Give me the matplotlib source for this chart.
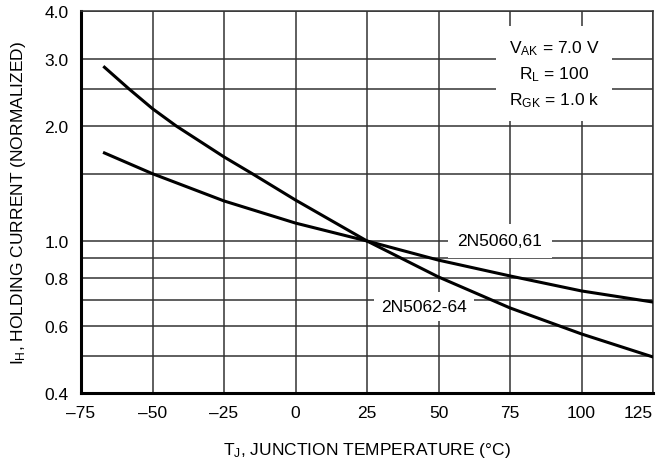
import matplotlib
matplotlib.use('Agg')
import matplotlib.pyplot as plt
from matplotlib.ticker import FixedLocator, NullFormatter

plt.rcParams['font.family'] = ['Liberation Sans', 'DejaVu Sans']
plt.rcParams['mathtext.default'] = 'regular'

# data
temp_5062 = [-66.8, -58.2, -50, -41.7, -25, -15.1, 0, 25, 50, 75, 100, 125]
ih_5062 = [2.85, 2.5, 2.22, 2.0, 1.66, 1.5, 1.28, 1.0, 0.805, 0.668, 0.571, 0.497]
temp_5060 = [-66.8, -50, -25, 0, 25, 50, 75, 100, 125]
ih_5060 = [1.70, 1.5, 1.273, 1.114, 1.0, 0.891, 0.81, 0.74, 0.692]

x_ticks = [-75, -50, -25, 0, 25, 50, 75, 100, 125]
x_labels = ['\u201375', '\u201350', '\u201325', '0', '25', '50', '75', '100', '125']
y_major = [0.4, 0.6, 0.8, 1.0, 2.0, 3.0, 4.0]
y_labels = ['0.4', '0.6', '0.8', '1.0', '2.0', '3.0', '4.0']
y_minor = [0.5, 0.7, 0.9, 1.5, 2.5]

fs = 12.5

fig = plt.figure(figsize=(6.59, 4.64), dpi=100)
ax = fig.add_axes([81/659, 1-394/464, (653-81)/659, (394-12)/464])

ax.set_yscale('log')
ax.set_xlim(-75, 125)
ax.set_ylim(0.4, 4.0)

ax.yaxis.set_major_locator(FixedLocator(y_major))
ax.yaxis.set_minor_locator(FixedLocator(y_minor))
ax.yaxis.set_minor_formatter(NullFormatter())
ax.set_yticklabels(y_labels)
ax.set_xticks(x_ticks)
ax.set_xticklabels(x_labels)
ax.get_xticklabels()[-1].set_ha('right')
ax.tick_params(which='both', length=0, labelsize=fs, pad=9)

ax.grid(True, which='both', color='#333333', linewidth=1.1, zorder=1)
ax.set_axisbelow(True)

for s in ['left', 'bottom']:
    ax.spines[s].set_linewidth(2.2)
for s in ['top', 'right']:
    ax.spines[s].set_linewidth(1.1)
    ax.spines[s].set_color('#333333')

ax.plot(temp_5062, ih_5062, color='black', linewidth=2.2, zorder=3)
ax.plot(temp_5060, ih_5060, color='black', linewidth=2.2, zorder=3)

ax.text(71.5, 1.0, '2N5060,61', fontsize=fs, ha='center', va='center',
        bbox=dict(facecolor='white', edgecolor='none', pad=7), zorder=4)
ax.text(45, 0.672, '2N5062-64', fontsize=fs, ha='center', va='center',
        bbox=dict(facecolor='white', edgecolor='none', pad=5), zorder=2)
ax.text(90.4, 2.74, '$V_{AK}$ = 7.0 V\n$R_{L}$ = 100\n$R_{GK}$ = 1.0 k',
        fontsize=fs, ha='center', va='center', linespacing=1.5,
        bbox=dict(facecolor='white', edgecolor='none', pad=9), zorder=4)

ax.set_xlabel('$T_{J}$, JUNCTION TEMPERATURE (\u00b0C)', fontsize=fs, labelpad=14)
ax.set_ylabel('$I_{H}$, HOLDING CURRENT (NORMALIZED)', fontsize=fs, labelpad=12)

fig.savefig('out.png', dpi=100)
